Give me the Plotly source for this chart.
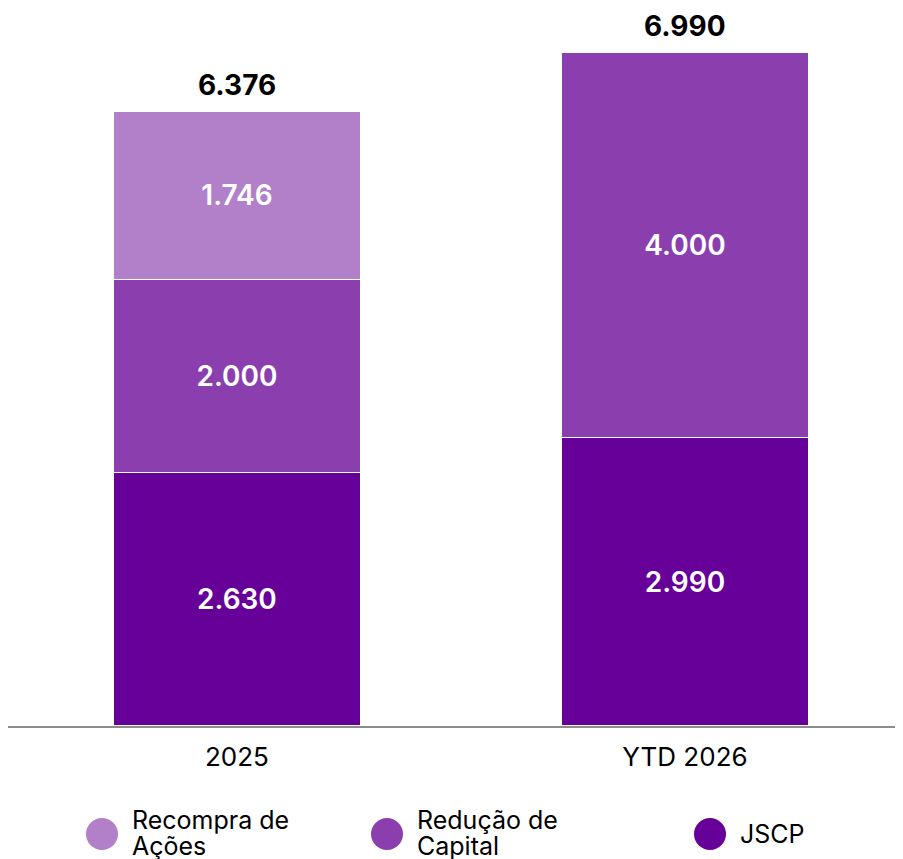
import plotly.graph_objects as go

categories = ["2025", "YTD 2026"]
recompra = [1746, 0]
reducao = [2000, 4000]
jscp = [2630, 2990]
totals = [6376, 6990]

legend_names = ["Recompra de<br>Ações", "Redução de<br>Capital", "JSCP"]
colors = ["#B27FC9", "#8B3FAF", "#660099"]

# the page body adds an 8px margin, so the figure is 8px smaller than the window
OFF = 8
W, H = 903 - OFF, 859 - OFF
PLOT_BOTTOM = 726 - OFF  # row of the x axis line inside the figure
FONT = "Inter"


def py(pix):
    # page row -> paper y
    return (PLOT_BOTTOM - (pix - OFF)) / PLOT_BOTTOM


def px(pix):
    return (pix - OFF) / W


fig = go.Figure()

for vals, col in [(jscp, colors[2]), (reducao, colors[1]), (recompra, colors[0])]:
    fig.add_trace(go.Bar(
        x=categories, y=[v if v else None for v in vals],
        marker=dict(color=col, line=dict(color="white", width=1.5)),
        width=0.553,
        texttemplate="%{y:,.0f}",
        textposition="inside", insidetextanchor="middle", textangle=0,
        textfont=dict(family=FONT, size=28, color="white", weight=600),
        showlegend=False,
    ))

for i, t in enumerate(totals):
    fig.add_annotation(x=i, y=t, text=f"{t:,}".replace(",", "."), showarrow=False,
                       yanchor="bottom", yshift=7,
                       font=dict(family=FONT, size=28, color="black", weight=700))

# legend drawn by hand so the dots can be large and the lines sit tight
leg_x = [102, 387, 710]
leg_y = 834
for name, col, cx in zip(legend_names, colors, leg_x):
    r = 16
    fig.add_shape(type="circle", xref="paper", yref="paper",
                  x0=px(cx - r), x1=px(cx + r), y0=py(leg_y + r), y1=py(leg_y - r),
                  fillcolor=col, line=dict(width=0))
    lines = name.split("<br>")
    if len(lines) == 1:
        rows = [leg_y]
    else:
        rows = [leg_y - 14, leg_y + 12]
    for line, ry in zip(lines, rows):
        fig.add_annotation(xref="paper", yref="paper", x=px(cx + 28), y=py(ry),
                           text=line, showarrow=False, xanchor="left", yanchor="middle",
                           align="left", font=dict(family=FONT, size=25, color="black"))

fig.update_layout(
    width=W, height=H,
    margin=dict(l=0, r=0, t=0, b=H - PLOT_BOTTOM),
    barmode="stack",
    plot_bgcolor="white", paper_bgcolor="white",
    separators=",.",
    showlegend=False,
    font=dict(family=FONT),
    xaxis=dict(range=[-0.511, 1.4866], showline=True, linecolor="#8c8c8c", linewidth=2,
               ticks="", ticklabelstandoff=7,
               tickfont=dict(family=FONT, size=26, color="black"),
               showgrid=False, fixedrange=True),
    yaxis=dict(range=[0, 7446], visible=False, showgrid=False, fixedrange=True),
)

fig.write_html("out.html")
